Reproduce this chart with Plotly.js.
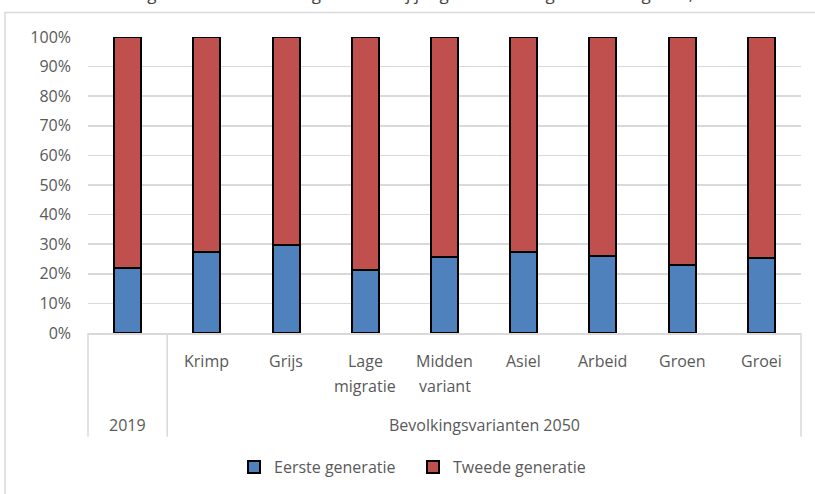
<!DOCTYPE html>
<html>
<head>
<meta charset="utf-8">
<script src="https://cdn.plot.ly/plotly-3.0.1.min.js"></script>
<style>html,body{margin:0;padding:0;background:#fff;}#chart{width:815px;height:494px;}</style>
</head>
<body>
<div id="chart"></div>
<script>
// ---- data ----
const categories = ["2019", "Krimp", "Grijs", "Lage<br>migratie", "Midden<br>variant", "Asiel", "Arbeid", "Groen", "Groei"];
const eersteGeneratie = [22.1, 27.4, 29.8, 21.2, 25.8, 27.2, 26.1, 22.9, 25.4];
const tweedeGeneratie = [77.9, 72.6, 70.2, 78.8, 74.2, 72.8, 73.9, 77.1, 74.6];
const groupLabels = ["2019", "Bevolkingsvarianten 2050"];
const seriesNames = ["Eerste generatie", "Tweede generatie"];
const titleText = "Percentage eerste en tweede generatie bij jongeren met migratieachtergrond, 2019 en 2050";
const yTickVals = [0, 10, 20, 30, 40, 50, 60, 70, 80, 90, 100];

// ---- layout helpers ----
const W = 815, H = 494;
const plotL = 88, plotR = 801, plotT = 37, plotB = 334;
const ph = plotB - plotT, pw = plotR - plotL;
const py = p => (plotB - p) / ph;      // pixel y -> paper y
const px = p => (p - plotL) / pw;      // pixel x -> paper x
const txtColor = "#595959";
const fontFam = "'Open Sans', 'DejaVu Sans', sans-serif";

const traces = [
  {type: "bar", name: seriesNames[0], x: categories, y: eersteGeneratie,
   marker: {color: "#4f81bd", line: {color: "#000", width: 2}}, hoverinfo: "skip"},
  {type: "bar", name: seriesNames[1], x: categories, y: tweedeGeneratie,
   marker: {color: "#c0504d", line: {color: "#000", width: 2}}, hoverinfo: "skip"}
];

const annotations = [];
categories.forEach((c, i) => {
  if (i === 0) return;
  c.split("<br>").forEach((line, k) => {
    annotations.push({xref: "x", yref: "paper", x: i, y: py(362 + 25 * k), text: line,
      showarrow: false, xanchor: "center", yanchor: "middle",
      font: {family: fontFam, size: 16, color: txtColor}});
  });
});
// group labels: "2019" spans the first category, the scenarios span the rest
annotations.push({xref: "x", yref: "paper", x: 0, y: py(426), text: groupLabels[0],
  showarrow: false, xanchor: "center", yanchor: "middle", font: {family: fontFam, size: 16, color: txtColor}});
annotations.push({xref: "paper", yref: "paper", x: (1/9 + 1) / 2, y: py(426), text: groupLabels[1],
  showarrow: false, xanchor: "center", yanchor: "middle", font: {family: fontFam, size: 16, color: txtColor}});
// chart title, mostly cut off at the top edge as in the reference
annotations.push({xref: "paper", yref: "paper", x: px(440), y: py(-7), text: titleText,
  showarrow: false, xanchor: "center", yanchor: "middle", font: {family: fontFam, size: 17, color: "#404040"}});

const lineCol = "#d9d9d9";
const shapes = [
  // outer chart frame (extends beyond the picture)
  {type: "rect", xref: "paper", yref: "paper", x0: px(5), x1: px(840), y0: py(520), y1: py(12.5),
   line: {color: lineCol, width: 1.5}, fillcolor: "rgba(0,0,0,0)", layer: "below"},
  // category axis lines
  {type: "line", xref: "paper", yref: "paper", x0: 0, x1: 0, y0: 0, y1: py(438), line: {color: lineCol, width: 1.5}},
  {type: "line", xref: "paper", yref: "paper", x0: 1/9, x1: 1/9, y0: 0, y1: py(438), line: {color: lineCol, width: 1.5}},
  {type: "line", xref: "paper", yref: "paper", x0: 1, x1: 1, y0: 0, y1: py(438), line: {color: lineCol, width: 1.5}}
];

const layout = {
  width: W, height: H,
  margin: {l: plotL, r: W - plotR, t: plotT, b: H - plotB, pad: 0},
  paper_bgcolor: "#fff", plot_bgcolor: "#fff",
  barmode: "stack", bargap: 0.66,
  showlegend: true,
  legend: {orientation: "h", x: px(234), xanchor: "left", y: py(467), yanchor: "middle",
           font: {family: fontFam, size: 16, color: txtColor}, entrywidth: 134, entrywidthmode: "pixels",
           tracegroupgap: 0, traceorder: "normal", bgcolor: "rgba(0,0,0,0)"},
  xaxis: {type: "category", showticklabels: false, ticks: "", showgrid: false, zeroline: false,
          showline: true, linecolor: lineCol, linewidth: 1.5, range: [-0.5, 8.5], fixedrange: true},
  yaxis: {range: [0, 100], tickvals: yTickVals, ticktext: yTickVals.map(v => v + "%"),
          showgrid: true, gridcolor: lineCol, gridwidth: 1.5, zeroline: false, showline: false,
          ticks: "", ticklabelstandoff: 16,
          tickfont: {family: fontFam, size: 16, color: txtColor}, fixedrange: true},
  annotations: annotations,
  shapes: shapes
};

Plotly.newPlot("chart", traces, layout, {displayModeBar: false, staticPlot: true});
</script>
</body>
</html>
